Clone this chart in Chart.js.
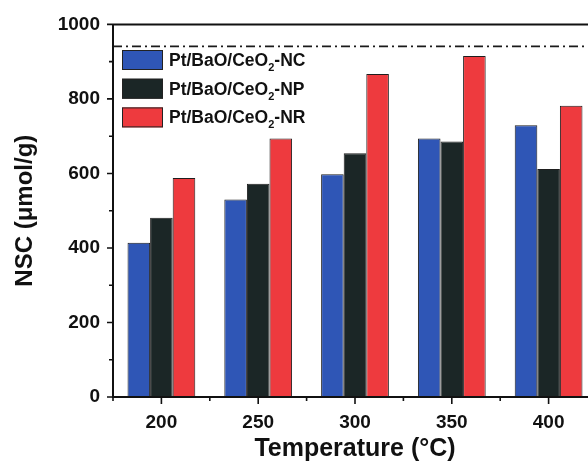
<!DOCTYPE html>
<html>
<head>
<meta charset="utf-8">
<script src="https://cdn.jsdelivr.net/npm/chart.js@4"></script>
<style>
html,body{margin:0;padding:0;background:#fff;overflow:hidden;width:588px;height:467px;}
canvas{display:block;}
</style>
</head>
<body>
<canvas id="c" width="600" height="467" style="width:600px;height:467px"></canvas>
<script>
const categories = ['200', '250', '300', '350', '400'];
const seriesNames = ['Pt/BaO/CeO₂-NC', 'Pt/BaO/CeO₂-NP', 'Pt/BaO/CeO₂-NR'];
const valuesNC = [414, 530, 598, 694, 729];
const valuesNP = [481, 572, 654, 686, 612];
const valuesNR = [588, 694, 867, 915, 782];
const referenceLine = 941;
const yTicks = [0, 200, 400, 600, 800, 1000];
const yMinorTicks = [100, 300, 500, 700, 900];
const colors = ['#2f56b6', '#1b2626', '#ee3a3e'];

const FONT = 'Liberation Sans, Arial, sans-serif';

const decor = {
  id: 'decor',
  afterDraw(chart) {
    const ctx = chart.ctx;
    const a = chart.chartArea;
    const x = chart.scales.x, y = chart.scales.y;
    ctx.save();
    // reference dash-dot line
    ctx.strokeStyle = '#1a1a1a';
    ctx.lineWidth = 1.6;
    ctx.setLineDash([9, 4, 2, 4]);
    const ry = y.getPixelForValue(referenceLine);
    ctx.beginPath();
    ctx.moveTo(a.left, ry);
    ctx.lineTo(a.right, ry);
    ctx.stroke();
    ctx.setLineDash([]);
    // frame
    ctx.strokeStyle = '#111';
    ctx.lineWidth = 2;
    ctx.beginPath();
    ctx.moveTo(a.left, a.top); ctx.lineTo(a.right, a.top);
    ctx.moveTo(a.left, a.top); ctx.lineTo(a.left, a.bottom);
    ctx.moveTo(a.left - 1, a.bottom); ctx.lineTo(a.right, a.bottom);
    ctx.stroke();
    // y ticks
    ctx.lineWidth = 1.6;
    ctx.beginPath();
    yTicks.forEach(v => { const p = y.getPixelForValue(v); ctx.moveTo(a.left, p); ctx.lineTo(a.left - 6, p); });
    yMinorTicks.forEach(v => { const p = y.getPixelForValue(v); ctx.moveTo(a.left, p); ctx.lineTo(a.left - 4, p); });
    // x ticks
    const step = x.getPixelForValue(1) - x.getPixelForValue(0);
    categories.forEach((c, i) => {
      const p = x.getPixelForValue(i);
      ctx.moveTo(p, a.bottom); ctx.lineTo(p, a.bottom + 7);
      const m = p - step / 2;
      ctx.moveTo(m, a.bottom); ctx.lineTo(m, a.bottom + 4);
    });
    ctx.stroke();
    // legend
    const lx = 122, ly0 = 50, rowH = 28.7, bw = 41, bh = 20;
    chart.data.datasets.forEach((ds, i) => {
      const yy = ly0 + i * rowH;
      ctx.fillStyle = ds.backgroundColor;
      ctx.fillRect(lx, yy, bw, bh);
      ctx.strokeStyle = '#222';
      ctx.lineWidth = 1;
      ctx.strokeRect(lx + 0.5, yy + 0.5, bw - 1, bh - 1);
      const parts = ds.label.split('₂');
      ctx.fillStyle = '#111';
      ctx.textBaseline = 'middle';
      ctx.textAlign = 'left';
      let tx = lx + bw + 6;
      const cy = yy + bh / 2 + 1;
      ctx.font = 'bold 17.5px ' + FONT;
      ctx.fillText(parts[0], tx, cy);
      tx += ctx.measureText(parts[0]).width;
      if (parts.length > 1) {
        ctx.font = 'bold 11px ' + FONT;
        ctx.fillText('2', tx, cy + 7);
        tx += ctx.measureText('2').width;
        ctx.font = 'bold 17.5px ' + FONT;
        ctx.fillText(parts[1], tx, cy);
      }
    });
    ctx.restore();
  }
};

const datasets = [valuesNC, valuesNP, valuesNR].map((vals, i) => ({
  label: seriesNames[i],
  data: vals,
  backgroundColor: colors[i],
  borderColor: '#1e1e1e',
  borderWidth: 1,
  borderSkipped: 'bottom',
  barPercentage: 1.0,
  categoryPercentage: 0.7
}));

new Chart(document.getElementById('c'), {
  type: 'bar',
  data: { labels: categories, datasets },
  plugins: [decor],
  options: {
    responsive: false,
    animation: false,
    layout: { padding: { left: 0, right: 3, top: 21, bottom: 0 } },
    plugins: { legend: { display: false }, tooltip: { enabled: false } },
    scales: {
      x: {
        offset: true,
        grid: { display: false, drawTicks: false },
        border: { display: false },
        ticks: { color: '#111', font: { family: FONT, size: 19, weight: 'bold' }, padding: 14, maxRotation: 0 },
        title: { display: true, text: 'Temperature (°C)', color: '#111', font: { family: FONT, size: 25, weight: 'bold' }, padding: { top: 0, bottom: 3 } },
        afterFit(s) { s.height = 70; }
      },
      y: {
        min: 0, max: 1000,
        afterBuildTicks(s) { s.ticks = yTicks.map(v => ({ value: v })); },
        grid: { display: false, drawTicks: false },
        border: { display: false },
        ticks: { color: '#111', font: { family: FONT, size: 19, weight: 'bold' }, padding: 13, callback: v => String(v) },
        title: { display: true, text: 'NSC (μmol/g)', color: '#111', font: { family: FONT, size: 24, weight: 'bold' }, padding: { top: 11, bottom: 0 } },
        afterFit(s) { s.width = 113; }
      }
    }
  }
});
</script>
</body>
</html>
